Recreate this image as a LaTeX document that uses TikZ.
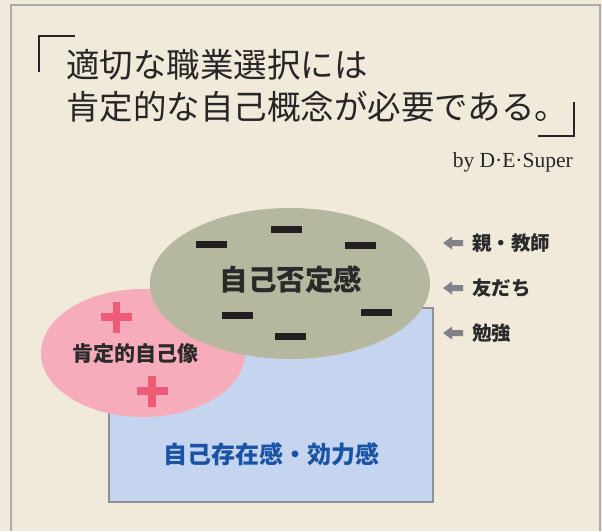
\documentclass[tikz,border=0pt]{standalone}
\usepackage{fontspec}
\setmainfont{Liberation Serif}
\newfontfamily\jp{Noto Sans CJK JP}
\usetikzlibrary{shapes.geometric,calc}
\definecolor{bgbeige}{HTML}{F1EADB}
\definecolor{framegray}{HTML}{ABABAB}
\definecolor{pinkfill}{HTML}{F6ACBA}
\definecolor{greenfill}{HTML}{B5B89F}
\definecolor{bluefill}{HTML}{C6D5EF}
\definecolor{blueborder}{HTML}{8C9099}
\definecolor{plusred}{HTML}{EF5B76}
\definecolor{minusblack}{HTML}{231F20}
\definecolor{bluetext}{HTML}{1853A6}
\definecolor{arrowgray}{HTML}{808287}
\definecolor{darktext}{HTML}{2A2A2A}
\definecolor{titletext}{HTML}{262626}
\begin{document}
\begin{tikzpicture}[x=1pt,y=-1pt,
  lbl/.style={inner sep=0pt, font=\jp\bfseries, text=darktext},
  titleline/.style={inner sep=0pt, anchor=west, font=\jp\fontsize{33.5pt}{36pt}\selectfont, text=titletext},
  minusbar/.style={fill=minusblack, minimum width=31pt, minimum height=7pt, inner sep=0pt},
  plusmark/.style={draw=plusred, line width=7.5pt},
  bracket/.style={draw=titletext, line width=1.8pt},
  sidelbl/.style={inner sep=0pt, anchor=west, font=\jp\bfseries\fontsize{19.5pt}{21pt}\selectfont, text=darktext},
  sidearrow/.style={fill=arrowgray}
]
\useasboundingbox (0,0) rectangle (602,531);
\fill[bgbeige] (0,0) rectangle (602,531);
\draw[framegray, line width=1.5pt] (11,531) -- (11,5) -- (600,5) -- (600,531);

% title
\node[titleline] (t1) at (66,65) {適切な職業選択には};
\node[titleline] (t2) at (66,107) {肯定的な自己概念が必要である。};
\draw[bracket] (39,72) -- (39,36) -- (75,36);
\draw[bracket] (538,136) -- (574,136) -- (574,102);
\node[inner sep=0pt, anchor=base east, font=\fontsize{21.5pt}{23pt}\selectfont, text=titletext] (by) at (573,167) {by D·E·Super};

% shapes
\node[draw=blueborder, fill=bluefill, line width=1.5pt, minimum width=324pt, minimum height=194pt, inner sep=0pt] (base) at (271,405) {};
\node[ellipse, fill=pinkfill, minimum width=204pt, minimum height=128pt, inner sep=0pt] (pos) at (143,353) {};
\node[ellipse, fill=greenfill, minimum width=280pt, minimum height=151pt, inner sep=0pt] (neg) at (290,283.5) {};

% minus bars
\node[minusbar] (m1) at (211.5,244.5) {};
\node[minusbar] (m2) at (286.5,229.5) {};
\node[minusbar] (m3) at (360.5,245.5) {};
\node[minusbar] (m4) at (237.5,315.5) {};
\node[minusbar] (m5) at (376.5,312.5) {};
\node[minusbar] (m6) at (290.5,336) {};

% plus marks
\coordinate (p1) at (116.5,317);
\coordinate (p2) at (152,391);
\foreach \p in {p1,p2}{
  \draw[plusmark] ($(\p)+(-15.5,0)$) -- ($(\p)+(15.5,0)$);
  \draw[plusmark] ($(\p)+(0,-15.5)$) -- ($(\p)+(0,15.5)$);
}

% labels
\node[lbl, font=\jp\bfseries\fontsize{28.5pt}{30pt}\selectfont] (negl) at (291,280) {自己否定感};
\node[lbl, font=\jp\bfseries\fontsize{21pt}{23pt}\selectfont] (posl) at (135.5,354) {肯定的自己像};
\node[lbl, font=\jp\bfseries\fontsize{24pt}{26pt}\selectfont, text=bluetext] (basel) at (271.5,454) {自己存在感・効力感};

% side labels
\node[sidelbl] (s1) at (472,243) {親・教師};
\node[sidelbl] (s2) at (472,288) {友だち};
\node[sidelbl] (s3) at (472,333) {勉強};
\foreach \s in {s1,s2,s3}{
  \fill[sidearrow] ($(\s.west)+(-29,0)$) -- ++(9,-6.5) -- ++(0,3.5) -- ++(11,0) -- ++(0,6) -- ++(-11,0) -- ++(0,3.5) -- cycle;
}
\end{tikzpicture}
\end{document}
